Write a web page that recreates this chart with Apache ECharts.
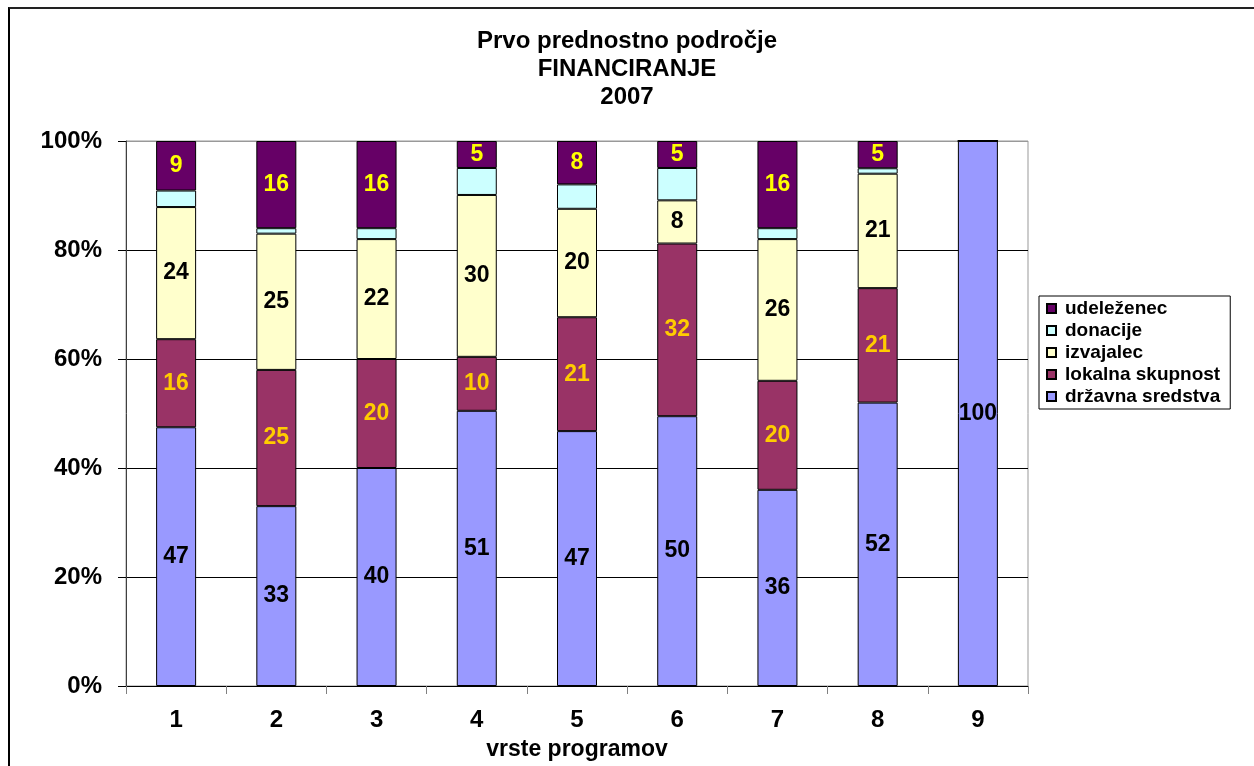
<!DOCTYPE html>
<html>
<head>
<meta charset="utf-8">
<script src="https://cdn.jsdelivr.net/npm/echarts@6/dist/echarts.min.js"></script>
<style>
  html, body { margin: 0; padding: 0; background: #fff; overflow: hidden; }
  #frame { position: absolute; left: 8px; top: 7px; width: 1400px; height: 900px;
           border-left: 2px solid #000; border-top: 2px solid #222; }
  #chart { position: absolute; left: 0; top: 0; width: 1254px; height: 766px; }
</style>
</head>
<body>
<div id="frame"></div>
<div id="chart"></div>
<script>
const categories = ['1', '2', '3', '4', '5', '6', '7', '8', '9'];
const drzavnaSredstva = [47, 33, 40, 51, 47, 50, 36, 52, 100];
const lokalnaSkupnost = [16, 25, 20, 10, 21, 32, 20, 21, 0];
const izvajalec = [24, 25, 22, 30, 20, 8, 26, 21, 0];
const donacije = [3, 1, 2, 5, 4.5, 6, 2, 1, 0];
const udelezenec = [9, 16, 16, 5, 8, 5, 16, 5, 0];
const yTicks = [0, 20, 40, 60, 80, 100];

const FONT = "'Liberation Sans', Arial, sans-serif";
const raw = [drzavnaSredstva, lokalnaSkupnost, izvajalec, donacije, udelezenec];
const totals = categories.map((c, i) => raw.reduce((s, arr) => s + arr[i], 0));

function pct(arr) {
  return arr.map((v, i) => ({ value: v / totals[i] * 100, raw: v }));
}

const seriesDefs = [
  { name: 'državna sredstva', data: drzavnaSredstva, color: '#9999FF', label: '#000000' },
  { name: 'lokalna skupnost', data: lokalnaSkupnost, color: '#993366', label: '#FFCC00' },
  { name: 'izvajalec', data: izvajalec, color: '#FFFFCC', label: '#000000' },
  { name: 'donacije', data: donacije, color: '#CCFFFF', label: null },
  { name: 'udeleženec', data: udelezenec, color: '#660066', label: '#FFFF00' }
];

const series = seriesDefs.map(d => ({
  name: d.name,
  type: 'bar',
  stack: 'total',
  barWidth: 40,
  data: pct(d.data),
  itemStyle: { color: d.color, borderColor: '#000', borderWidth: 1 },
  label: {
    show: d.label !== null,
    position: 'inside',
    color: d.label || '#000',
    fontFamily: FONT,
    fontWeight: 'bold',
    fontSize: 23,
    formatter: p => (p.data.raw ? String(p.data.raw) : '')
  },
  emphasis: { disabled: true }
}));

const chart = echarts.init(document.getElementById('chart'), null, { renderer: 'canvas' });
chart.setOption({
  backgroundColor: 'transparent',
  animation: false,
  title: {
    text: 'Prvo prednostno področje\nFINANCIRANJE\n2007',
    left: 'center',
    top: 22,
    textStyle: { fontFamily: FONT, fontWeight: 'bold', fontSize: 24, lineHeight: 28, color: '#000' }
  },
  legend: {
    orient: 'vertical',
    left: 1039,
    top: 296,
    data: ['udeleženec', 'donacije', 'izvajalec', 'lokalna skupnost', 'državna sredstva'],
    icon: 'rect',
    itemWidth: 9,
    itemHeight: 9,
    itemGap: 3,
    padding: [3, 10, 3, 7],
    borderColor: '#000',
    borderWidth: 1,
    selectedMode: false,
    textStyle: { fontFamily: FONT, fontWeight: 'bold', fontSize: 19, lineHeight: 19, color: '#000', padding: [0, 0, 0, 4] }
  },
  grid: {
    left: 126, width: 902, top: 141, height: 545,
    show: true, borderColor: '#999', borderWidth: 1, containLabel: false
  },
  xAxis: {
    type: 'category',
    data: categories,
    name: 'vrste programov',
    nameLocation: 'middle',
    nameGap: 52,
    nameTextStyle: { fontFamily: FONT, fontWeight: 'bold', fontSize: 23, color: '#000' },
    axisLine: { lineStyle: { color: '#000', width: 1 } },
    axisTick: { show: true, length: 8, lineStyle: { color: '#808080' } },
    axisLabel: { fontFamily: FONT, fontWeight: 'bold', fontSize: 24, color: '#000', margin: 22 }
  },
  yAxis: {
    type: 'value',
    min: yTicks[0],
    max: yTicks[yTicks.length - 1],
    interval: 20,
    axisLine: { show: true, lineStyle: { color: '#404040', width: 1 } },
    axisTick: { show: true, length: 8, lineStyle: { color: '#000' } },
    axisLabel: { fontFamily: FONT, fontWeight: 'bold', fontSize: 24, color: '#000', margin: 24, formatter: '{value}%' },
    splitLine: { show: true, lineStyle: { color: ['#000', '#000', '#000', '#000', '#000', '#999'], width: 1 } }
  },
  series: series
});
</script>
</body>
</html>
